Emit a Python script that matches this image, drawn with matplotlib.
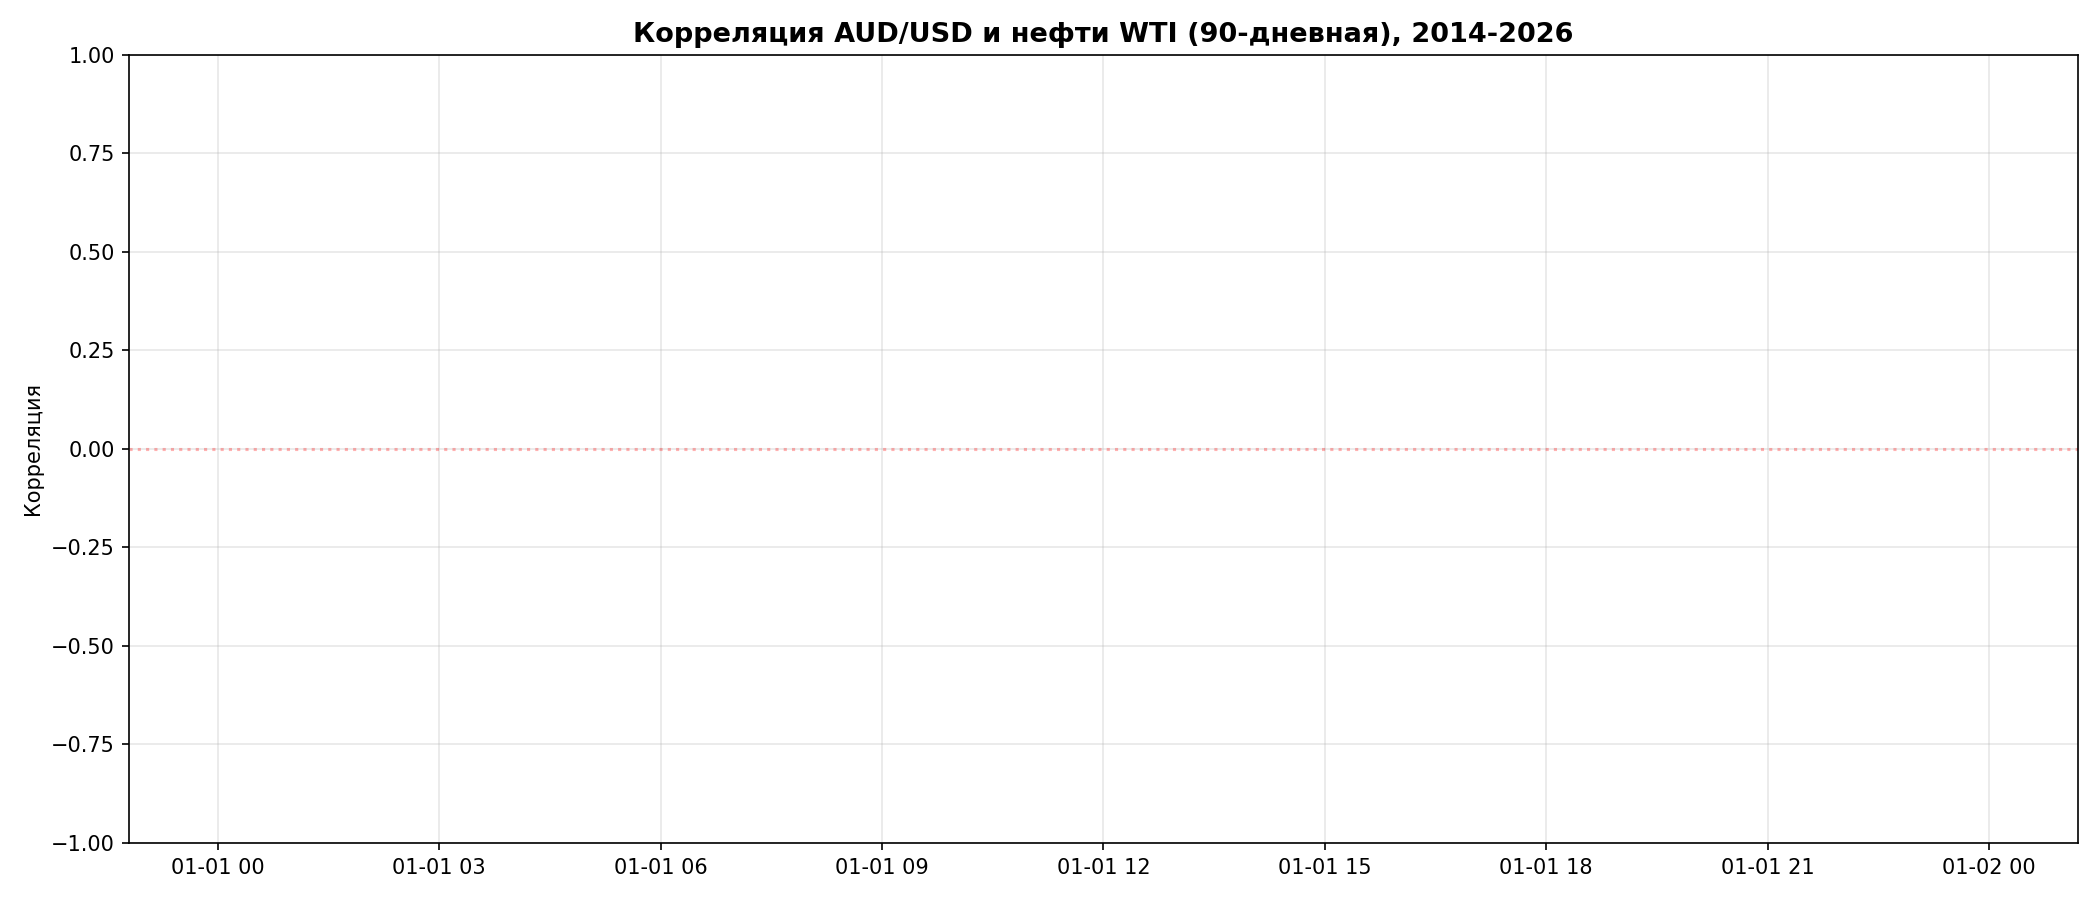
import datetime as dt
import matplotlib
matplotlib.use("Agg")
import matplotlib.pyplot as plt
import matplotlib.dates as mdates
import pandas as pd

# Data: the reference series is empty (no correlation values were plotted)
dates = pd.to_datetime([])
correlation = []

title = "Корреляция AUD/USD и нефти WTI (90-дневная), 2014-2026"
ylabel = "Корреляция"

fig, ax = plt.subplots(figsize=(14, 6), dpi=150)
ax.plot(dates, correlation, color="tab:blue", linewidth=1.5)
ax.axhline(0, color="red", linestyle=":", linewidth=1.5, alpha=0.3)

start = dt.datetime(1970, 1, 1)
ax.set_xlim(start - dt.timedelta(days=0.05), start + dt.timedelta(days=1.05))
ax.set_ylim(-1, 1)
ax.set_title(title, fontsize=13, fontweight="bold")
ax.set_ylabel(ylabel, fontsize=10)
ax.grid(True, alpha=0.3)

fig.tight_layout()
fig.savefig("out.png", dpi=150)
